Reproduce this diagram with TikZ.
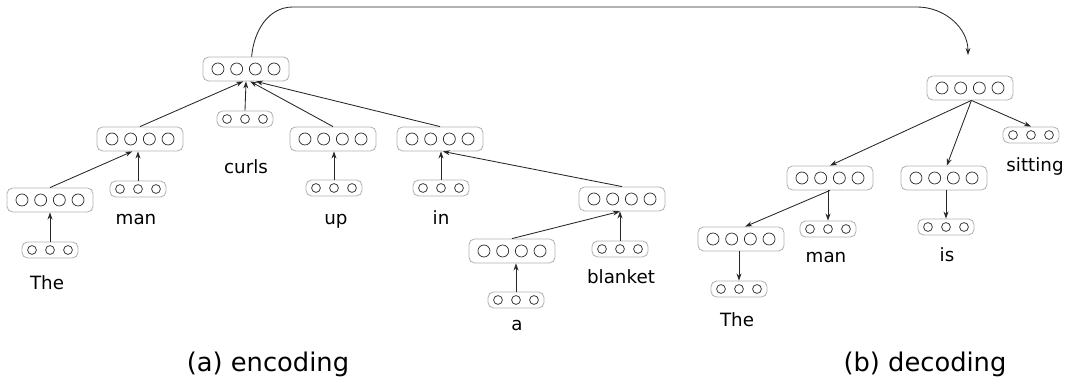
\documentclass[tikz,border=0pt]{standalone}
\usepackage{fontspec}
\setmainfont{DejaVu Sans}
\usetikzlibrary{arrows.meta}
\tikzset{
    vec/.style={draw=black!30, line width=0.6pt, rounded corners=4pt, inner sep=0pt},
    vecfour/.style={vec, minimum width=2.15cm, minimum height=0.6cm,
            path picture={
                    \foreach \k in {-1.5,-0.5,0.5,1.5}
                    \draw[black!85, line width=0.5pt] ([xshift=\k*0.467cm]path picture bounding box.center) circle (0.15cm);
                }},
    vecthree/.style={vec, minimum width=1.4cm, minimum height=0.4cm,
            path picture={
                    \foreach \k in {-1,0,1}
                    \draw[black!85, line width=0.5pt] ([xshift=\k*0.45cm]path picture bounding box.center) circle (0.11cm);
                }},
    word/.style={font=\fontsize{13}{15}\selectfont, anchor=base, inner sep=0pt},
    caption/.style={font=\fontsize{18.3}{21}\selectfont, anchor=base, inner sep=0pt},
    link/.style={-{Stealth[length=5pt,width=3.5pt]}, black!85, line width=0.6pt},
}

\begin{document}
\begin{tikzpicture}[x=0.025cm, y=-0.025cm]
        \useasboundingbox (0,0) rectangle (1068,379);
        %encoding tree
        \node[vecfour] (encRoot) at (246,69) {};
        \node[vecfour] (encTheMan) at (140,139) {};
        \node[vecfour] (encThe) at (50,200) {};
        \node[vecthree] (encTheW) at (50,250) {};
        \node[vecthree] (encManW) at (138,189) {};
        \node[vecthree] (encCurlsW) at (245,119) {};
        \node[vecfour] (encUp) at (333,139) {};
        \node[vecthree] (encUpW) at (334,188) {};
        \node[vecfour] (encIn) at (440,139) {};
        \node[vecthree] (encInW) at (441,188) {};
        \node[vecfour] (encABlanket) at (622,199) {};
        \node[vecfour] (encA) at (512,251) {};
        \node[vecthree] (encAW) at (516,300) {};
        \node[vecthree] (encBlanketW) at (620,249) {};
        %encoding words
        \node[word] (lblEncThe) at (47,290) {The};
        \node[word] (lblEncMan) at (136,225) {man};
        \node[word] (lblCurls) at (246,174) {curls};
        \node[word] (lblUp) at (336,225) {up};
        \node[word] (lblIn) at (441,225) {in};
        \node[word] (lblBlanket) at (621,284) {blanket};
        \node[word] (lblA) at (517,331) {a};
        %encoding arrows
        \draw[link] (encTheMan.north) -- ([xshift=-2pt]encRoot.south);
        \draw[link] (encCurlsW.north) -- (encRoot.south);
        \draw[link] (encUp.north) -- ([xshift=3pt]encRoot.south);
        \draw[link] (encIn.north) -- ([xshift=7pt]encRoot.south);
        \draw[link] (encThe.north) -- ([xshift=-5.5pt]encTheMan.south);
        \draw[link] (encManW.north) -- (encManW.north |- encTheMan.south);
        \draw[link] (encTheW.north) -- (encThe.south);
        \draw[link] (encUpW.north) -- (encUpW.north |- encUp.south);
        \draw[link] (encInW.north) -- (encInW.north |- encIn.south);
        \draw[link] (encABlanket.north) -- ([xshift=2pt]encIn.south);
        \draw[link] (encA.north) -- ([xshift=-1.5pt]encABlanket.south);
        \draw[link] (encBlanketW.north) -- (encBlanketW.north |- encABlanket.south);
        \draw[link] (encAW.north) -- (encAW.north |- encA.south);
        %decoding tree
        \node[vecfour] (decRoot) at (970,88) {};
        \node[vecfour] (decTheMan) at (830,178) {};
        \node[vecfour] (decIs) at (944,178) {};
        \node[vecthree] (decSittingW) at (1031,135) {};
        \node[vecfour] (decThe) at (741,239) {};
        \node[vecthree] (decManW) at (828,229) {};
        \node[vecthree] (decIsW) at (946,227) {};
        \node[vecthree] (decTheW) at (739,289) {};
        %decoding words
        \node[word] (lblDecThe) at (737,327) {The};
        \node[word] (lblDecMan) at (826,263) {man};
        \node[word] (lblIs) at (947,262) {is};
        \node[word] (lblSitting) at (1035,172) {sitting};
        %decoding arrows
        \draw[link] ([xshift=1pt]decRoot.south) -- (decTheMan.north);
        \draw[link] ([xshift=1pt]decRoot.south) -- ([xshift=2pt]decIs.north);
        \draw[link] ([xshift=1pt]decRoot.south) -- (decSittingW.north);
        \draw[link] (decTheMan.south) -- ([xshift=3pt]decThe.north);
        \draw[link] (decManW.north |- decTheMan.south) -- (decManW.north);
        \draw[link] (decIsW.north |- decIs.south) -- (decIsW.north);
        \draw[link] (decTheW.north |- decThe.south) -- (decTheW.north);
        %encoder to decoder
        \coordinate (decIn) at (968,55);
        \draw[link] ([xshift=4pt]encRoot.north) to[out=85, in=180] (293,7) -- (917,7) to[out=0, in=90] (decIn);
        %captions
        \node[caption] (capEnc) at (268,372) {(a) encoding};
        \node[caption] (capDec) at (925,372) {(b) decoding};
    \end{tikzpicture}
\end{document}
